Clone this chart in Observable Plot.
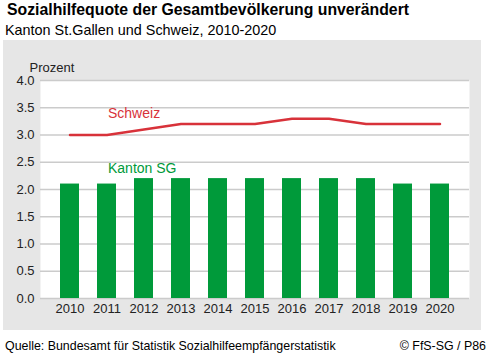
<!DOCTYPE html>
<html>
<head>
<meta charset="utf-8">
<script src="https://cdn.jsdelivr.net/npm/d3@7"></script>
<script src="https://cdn.jsdelivr.net/npm/@observablehq/plot@0.6"></script>
<style>
  body { margin: 0; background: #fff; font-family: "Liberation Sans", Arial, sans-serif; }
  #wrap { position: relative; width: 492px; height: 361px; overflow: hidden; }
  .title { position: absolute; left: 7px; top: 1px; font-size: 15.8px; font-weight: bold; color: #000; white-space: nowrap; }
  .subtitle { position: absolute; left: 5px; top: 22px; font-size: 14.4px; color: #000; white-space: nowrap; }
  #chart { position: absolute; left: 3px; top: 40px; }
  .source { position: absolute; left: 5px; top: 339px; font-size: 12.4px; color: #000; white-space: nowrap; }
  .copy { position: absolute; right: 6px; top: 339px; font-size: 12.4px; color: #000; white-space: nowrap; }
</style>
</head>
<body>
<div id="wrap">
  <div class="title">Sozialhilfequote der Gesamtbevölkerung unverändert</div>
  <div class="subtitle">Kanton St.Gallen und Schweiz, 2010-2020</div>
  <div id="chart"></div>
  <div class="source">Quelle: Bundesamt für Statistik Sozialhilfeempfängerstatistik</div>
  <div class="copy">© FfS-SG / P86</div>
</div>
<script>
const years = ["2010","2011","2012","2013","2014","2015","2016","2017","2018","2019","2020"];
const kantonSG = [2.1, 2.1, 2.2, 2.2, 2.2, 2.2, 2.2, 2.2, 2.2, 2.1, 2.1];
const schweiz = [3.0, 3.0, 3.1, 3.2, 3.2, 3.2, 3.3, 3.3, 3.2, 3.2, 3.2];
const yTicks = [0, 0.5, 1, 1.5, 2, 2.5, 3, 3.5, 4];
const seriesLabels = [
  {name: "Schweiz", year: "2011", value: 3.39, color: "#d8323a"},
  {name: "Kanton SG", year: "2011", value: 2.39, color: "#009a3a"}
];

const sgData = years.map((y, i) => ({year: y, value: kantonSG[i]}));
const chData = years.map((y, i) => ({year: y, value: schweiz[i]}));

const plot = Plot.plot({
  width: 478,
  height: 290,
  marginLeft: 37,
  marginRight: 12,
  marginTop: 40,
  marginBottom: 32,
  style: { background: "#e6e6e6", fontFamily: "'Liberation Sans', Arial, sans-serif", fontSize: "13px", color: "#222" },
  x: { domain: years, padding: 0.5, paddingOuter: 0.52, label: null },
  y: { domain: [0, 4], label: null },
  marks: [
    Plot.frame({ fill: "white", stroke: null }),
    Plot.gridY(yTicks, { stroke: "#cbcbcb", strokeOpacity: 1, strokeWidth: 1.5 }),
    Plot.barY(sgData, { x: "year", y: "value", fill: "#009a3a" }),
    Plot.lineY(chData, { x: "year", y: "value", stroke: "#d8323a", strokeWidth: 2.5 }),
    Plot.text(seriesLabels, { x: "year", y: "value", text: "name", fill: "color", textAnchor: "start", dx: 1, fontSize: 14 }),
    Plot.axisY(yTicks, { tickSize: 0, tickPadding: 6, tickFormat: d3.format(".1f"), fontSize: 13, label: null }),
    Plot.axisX({ tickSize: 0, tickPadding: 5, fontSize: 13, label: null }),
    Plot.text(["Prozent"], { frameAnchor: "top-left", dx: -11, dy: -18, textAnchor: "start", fontSize: 13 })
  ]
});
document.getElementById("chart").appendChild(plot);
</script>
</body>
</html>
